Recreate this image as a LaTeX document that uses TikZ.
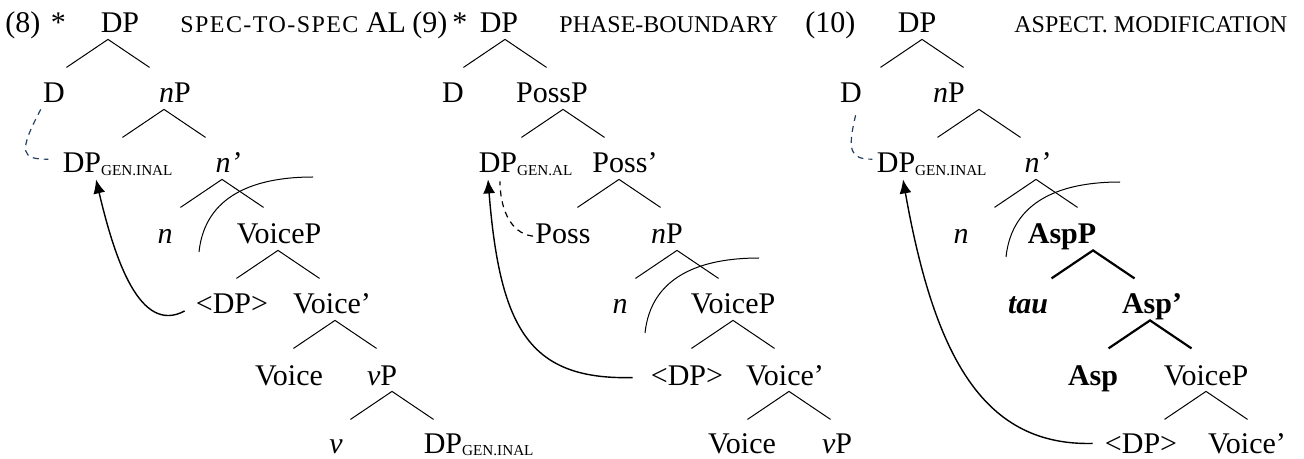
\documentclass[tikz,border=0pt]{standalone}
\usepackage{fontspec}
\setmainfont{Liberation Serif}
\usepackage{tikz}
\usetikzlibrary{arrows.meta}

\definecolor{tieblue}{RGB}{38,64,96}
\newcommand{\smcp}[1]{{\fontsize{12}{12}\selectfont #1}}
\newcommand{\gensub}[1]{\rlap{\raisebox{-1.2pt}{\fontsize{7.6}{8}\selectfont #1}}}

\tikzset{
  lbl/.style={font=\fontsize{15}{17}\selectfont, inner sep=1pt,
    text height=9.8pt, text depth=2pt, anchor=base},
  low/.style={lbl, text depth=0pt},
  branch/.style={line width=0.5pt},
  boldbranch/.style={line width=1.1pt},
  phase/.style={line width=0.5pt},
  move/.style={-{Latex[length=7pt,width=6pt]}, line width=0.7pt},
  tie/.style={dash pattern=on 3pt off 2.5pt, line width=0.6pt},
}

\begin{document}
\begin{tikzpicture}[x=0.5pt, y=-0.5pt]
\useasboundingbox (0,0) rectangle (1304,459);

    % headings
    \node[lbl, anchor=base west] (ex8) at (3,33) {(8)\hspace{0.35em}*};
    \node[lbl, anchor=base west] (lab8) at (178,33)
      {\smcp{\addfontfeature{LetterSpace=6}SPEC-TO-SPEC} AL};
    \node[lbl, anchor=base west] (ex9) at (410,33) {(9)\,*};
    \node[lbl, anchor=base west] (lab9) at (557,33) {\smcp{PHASE-BOUNDARY}};
    \node[lbl, anchor=base west] (ex10) at (803,33) {(10)};
    \node[lbl, anchor=base west] (lab10) at (1012,33) {\smcp{ASPECT. MODIFICATION}};

    % tree (8)
    \node[lbl] (DP8) at (120,33) {DP};
    \node[lbl] (D8) at (54,103) {D};
    \node[lbl] (nP8) at (175,103) {\textit{n}P};
    \node[lbl] (DPg8) at (82,173) {DP\gensub{GEN.INAL}};
    \node[lbl] (nb8) at (228,173) {\textit{n'}};
    \node[lbl] (n8) at (165,244) {\textit{n}};
    \node[lbl] (VoiceP8) at (279,244) {VoiceP};
    \node[lbl] (tr8) at (232,314) {\textless DP\textgreater};
    \node[lbl] (Vb8) at (332,314) {Voice'};
    \node[lbl] (Voice8) at (289,385) {Voice};
    \node[lbl] (vP8) at (382,385) {\textit{v}P};
    \node[low] (v8) at (336,453) {\textit{v}};
    \node[low] (DPo8) at (443,453) {DP\gensub{GEN.INAL}};

    % tree (9)
    \node[lbl] (DP9) at (499,33) {DP};
    \node[lbl] (D9) at (453,103) {D};
    \node[lbl] (PossP9) at (552,103) {PossP};
    \node[lbl] (DPg9) at (498,173) {DP\gensub{GEN.AL}};
    \node[lbl] (Pb9) at (625,173) {Poss'};
    \node[lbl] (Poss9) at (563,244) {Poss};
    \node[lbl] (nP9) at (667,244) {\textit{n}P};
    \node[lbl] (n9) at (620,314) {\textit{n}};
    \node[lbl] (VoiceP9) at (733,314) {VoiceP};
    \node[lbl] (tr9) at (687,385) {\textless DP\textgreater};
    \node[lbl] (Vb9) at (785,385) {Voice'};
    \node[low] (Voice9) at (742,453) {Voice};
    \node[low] (vP9) at (837,453) {\textit{v}P};

    % tree (10)
    \node[lbl] (DP10) at (917,33) {DP};
    \node[lbl] (D10) at (851,103) {D};
    \node[lbl] (nP10) at (949,103) {\textit{n}P};
    \node[lbl] (DPg10) at (896,173) {DP\gensub{GEN.INAL}};
    \node[lbl] (nb10) at (1037,173) {\textit{n'}};
    \node[lbl] (n10) at (961,244) {\textit{n}};
    \node[lbl] (AspP10) at (1062,244) {\textbf{AspP}};
    \node[lbl] (tau10) at (1028,314) {\textbf{\textit{tau}}};
    \node[lbl] (Ab10) at (1152,314) {\textbf{Asp'}};
    \node[lbl] (Asp10) at (1093,385) {\textbf{Asp}};
    \node[lbl] (VoiceP10) at (1206,385) {VoiceP};
    \node[low] (tr10) at (1141,453) {\textless DP\textgreater};
    \node[low] (Vb10) at (1247,453) {Voice'};

    % branches: every roof has the same size, hung under its mother node
    \foreach \p/\dx/\st in {DP8/-12/branch, nP8/-11/branch, nb8/-6/branch,
      VoiceP8/-1/branch, Vb8/3/branch, vP8/10/branch,
      DP9/6/branch, PossP9/11/branch, Pb9/-6/branch, nP9/10/branch,
      VoiceP9/0/branch, Vb9/4/branch,
      DP10/5/branch, nP10/30/branch, nb10/-1/branch, VoiceP10/0/branch,
      AspP10/31/boldbranch, Ab10/-2/boldbranch}
    {
      \path (\p.south) ++(\dx,0) coordinate (\p-t)
        ++(-41.5,28) coordinate (\p-l) (\p-t) ++(41.5,28) coordinate (\p-r);
      \draw[\st] (\p-l) -- (\p-t) -- (\p-r);
    }

    % phase boundaries
    \foreach \ax/\ay in {199/252, 645/333, 1006/257}
      \draw[phase] (\ax,\ay) .. controls +(6,-57) and +(-58,0) .. +(114,-75);

    % movement
    \draw[move, shorten <=5pt] (tr8.west)
      .. controls (140,335) and (115,260) .. ([xshift=7pt]DPg8.south);
    \draw[move, shorten <=8pt] (tr9.west)
      .. controls (530,380) and (500,330) .. ([xshift=-5pt]DPg9.south);
    \draw[move, shorten <=5pt] (tr10.west)
      .. controls (985,446) and (935,360) .. ([xshift=3.5pt]DPg10.south);

    % agreement ties
    \draw[tie, tieblue, shorten >=6pt] (D8.south west)
      .. controls +(-24,45) and +(-38,0) .. ([yshift=3pt]DPg8.west);
    \draw[tie, shorten >=1pt] (Poss9.west)
      .. controls +(-25,-3) and +(0,25) .. ([xshift=1pt]DPg9.south);
    \draw[tie, tieblue, shorten <=3pt, shorten >=1pt] ([xshift=3pt]D10.south)
      .. controls +(-10,42) and +(-24,0) .. ([yshift=3pt]DPg10.west);

\end{tikzpicture}
\end{document}
